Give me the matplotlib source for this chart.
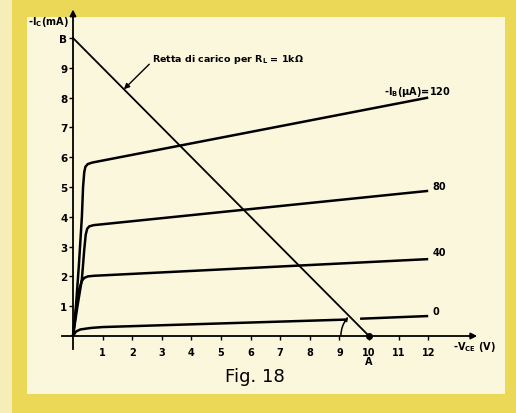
import matplotlib.pyplot as plt
import numpy as np
from matplotlib.patches import Arc, Rectangle

plt.rcParams['font.family'] = ['DejaVu Sans']
plt.rcParams['mathtext.default'] = 'regular'

# output characteristics: -Vce (V) against -Ic (mA)
vce_0 = [0, 0.1, 0.25, 0.6, 1.0, 9.2, np.nan, 9.7, 12]
ic_0 = [0, 0.15, 0.22, 0.27, 0.3, 0.55, np.nan, 0.58, 0.67]

vce_40 = [0, 0.12, 0.22, 0.3, 0.38, 0.5, 0.7, 12]
ic_40 = [0, 1.0, 1.6, 1.85, 1.95, 2.0, 2.02, 2.58]

vce_80 = [0, 0.15, 0.3, 0.38, 0.43, 0.48, 0.55, 0.7, 12]
ic_80 = [0, 1.0, 1.9, 2.9, 3.4, 3.6, 3.68, 3.72, 4.87]

vce_120 = [0, 0.1, 0.2, 0.3, 0.34, 0.38, 0.42, 0.5, 0.65, 12]
ic_120 = [0, 1.0, 2.4, 4.0, 5.0, 5.5, 5.68, 5.77, 5.82, 8.0]

curve_labels = ['0', '40', '80', '-I$_B$(µA)=120']
label_pos = [(12.15, 0.84), (12.15, 2.82), (12.15, 5.03), (10.5, 8.22)]

# load line for RL = 1 kOhm, from B (0, 10 mA) to A (10 V, 0)
load_v = [0, 10]
load_i = [10, 0]

x_ticks = list(range(1, 13))
x_tick_labels = ['1', '2', '3', '4', '5', '6', '7', '8', '9', '10\nA', '11', '12']
y_ticks = list(range(1, 11))
y_tick_labels = ['1', '2', '3', '4', '5', '6', '7', '8', '9', 'B']

yellow = '#ecd857'
cream = '#fbf7dc'

fig = plt.figure(figsize=(5.16, 4.14), dpi=100, facecolor=yellow)
fig.add_artist(Rectangle((0, 0), 12 / 516, 1, transform=fig.transFigure,
                         facecolor='#f6eeb6', edgecolor='none', zorder=0))
fig.add_artist(Rectangle((27 / 516, 1 - 395 / 414), (505 - 27) / 516, (395 - 18) / 414,
                         transform=fig.transFigure, facecolor=cream, edgecolor='none', zorder=0))

ax = fig.add_axes([58.2 / 516, 1 - 351.9 / 414, (487.4 - 58.2) / 516, (351.9 - 3.24) / 414])
ax.set_facecolor('none')
ax.set_xlim(-0.5, 14)
ax.set_ylim(-0.5, 11.2)

for s in ['top', 'right']:
    ax.spines[s].set_visible(False)
ax.spines['left'].set_position(('data', 0))
ax.spines['bottom'].set_position(('data', 0))
ax.spines['left'].set_bounds(-0.45, 10.8)
ax.spines['bottom'].set_bounds(-0.37, 13.5)
for s in ['left', 'bottom']:
    ax.spines[s].set_linewidth(1.3)

# arrow heads on the axes
ax.annotate('', xy=(0, 11.05), xytext=(0, 10.6),
            arrowprops=dict(arrowstyle='-|>', color='black', lw=1.3, mutation_scale=9))
ax.annotate('', xy=(13.75, 0), xytext=(13.3, 0),
            arrowprops=dict(arrowstyle='-|>', color='black', lw=1.3, mutation_scale=9))

ax.set_xticks(x_ticks)
ax.set_xticklabels(x_tick_labels, fontsize=7, fontweight='bold', linespacing=0.9)
ax.set_yticks(y_ticks)
ax.set_yticklabels(y_tick_labels, fontsize=7.5, fontweight='bold')
ax.tick_params(axis='x', direction='out', length=3, width=1, pad=5)
ax.tick_params(axis='y', direction='out', length=3, width=1, pad=1)

# characteristic curves
for v, i in [(vce_0, ic_0), (vce_40, ic_40), (vce_80, ic_80), (vce_120, ic_120)]:
    ax.plot(v, i, color='black', lw=1.8, solid_capstyle='butt', solid_joinstyle='round')

for lab, (x, y) in zip(curve_labels, label_pos):
    ax.text(x, y, lab, fontsize=7, fontweight='bold', ha='left', va='center')

# load line, point A and the angle arc
ax.plot(load_v, load_i, color='black', lw=1.3)
ax.plot([10], [0], 'o', color='black', ms=4, clip_on=False)
ax.add_patch(Arc((10, 0), 1.9, 1.9, theta1=140, theta2=180, color='black', lw=1.1))
ax.annotate('', xy=(9.294, 0.636), xytext=(9.177, 0.475),
            arrowprops=dict(arrowstyle='-|>', color='black', lw=0.8, mutation_scale=6,
                            shrinkA=0, shrinkB=0))

ax.annotate('Retta di carico per R$_L$ = 1kΩ', xy=(1.72, 8.28), xytext=(2.67, 9.3),
            fontsize=6.8, fontweight='bold', ha='left', va='center',
            arrowprops=dict(arrowstyle='-|>', color='black', lw=1.0, mutation_scale=8,
                            shrinkA=0, shrinkB=0, relpos=(0, 0.3)))

# axis titles
ax.text(-0.15, 10.57, '-I$_C$(mA)', fontsize=7, fontweight='bold', ha='right', va='center',
        clip_on=False)
ax.text(12.84, -0.34, '-V$_{CE}$ (V)', fontsize=7, fontweight='bold', ha='left', va='center',
        clip_on=False)

fig.text(255 / 516, 1 - 377 / 414, 'Fig. 18', fontsize=13, ha='center', va='center')

plt.savefig('out.png', dpi=100, facecolor=yellow)
